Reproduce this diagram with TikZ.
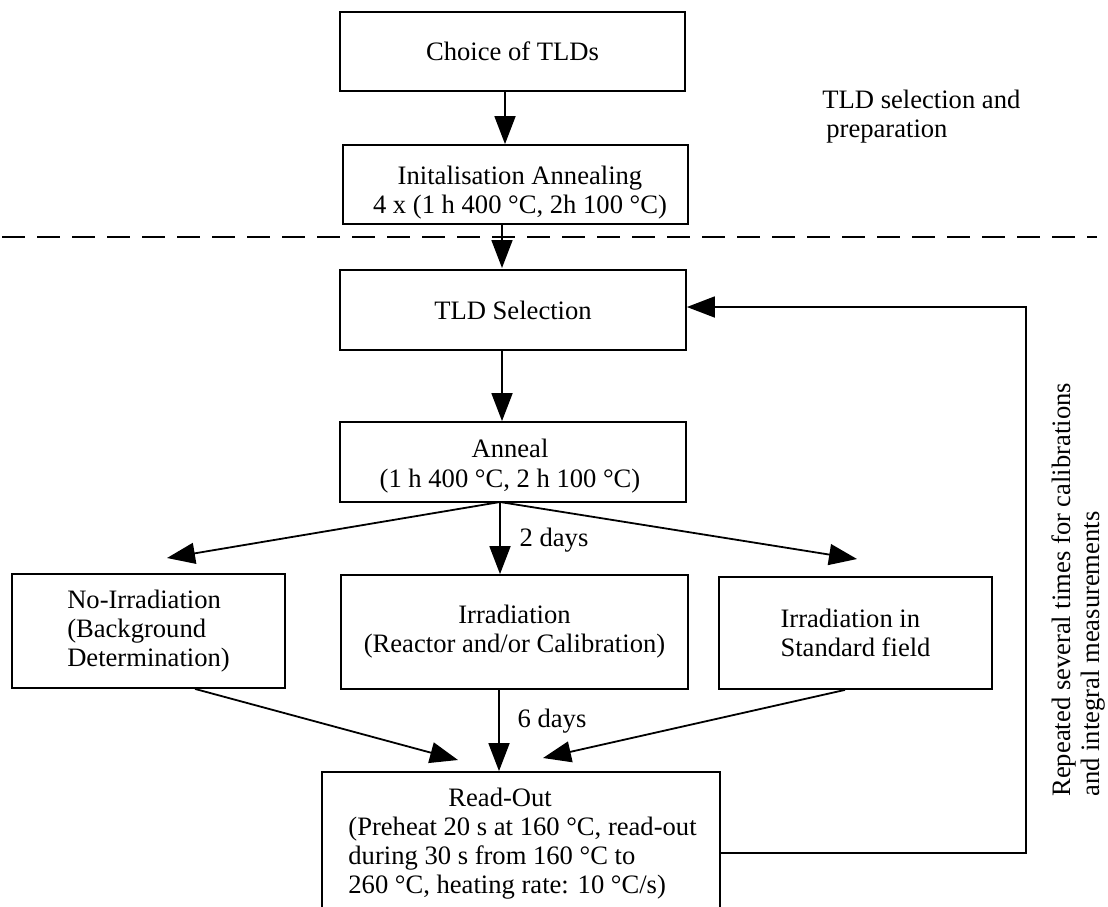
\documentclass[tikz,border=0pt]{standalone}
\usepackage{fontspec}
\setmainfont{Liberation Serif}
\usetikzlibrary{arrows.meta}
\begin{document}
\begin{tikzpicture}[x=0.5pt,y=-0.5pt,
  every node/.style={font=\fontsize{13.3pt}{14.5pt}\selectfont},
  box/.style={draw, line width=0.9pt, inner sep=0pt},
  arr/.style={line width=0.9pt, -{Triangle[length=14pt,width=10.5pt]}},
  ln/.style={line width=0.9pt},
  plain/.style={inner sep=0pt}]
\useasboundingbox (0,0) rectangle (1108,906);

% boxes
\node[box, minimum width=172.5pt, minimum height=39.5pt] (choice) at (512.5,51.5) {Choice of TLDs};
\node[box, minimum width=172.5pt, minimum height=39.5pt] (init) at (515.5,184.5) {};
\node[plain, anchor=north, align=center] (inittext) at (520,166) {Initalisation Annealing\\ 4 x (1 h 400 °C, 2h 100 °C)};
\node[box, minimum width=173pt, minimum height=40pt] (sel) at (513,310) {TLD Selection};
\node[box, minimum width=173pt, minimum height=40pt] (anneal) at (513,462) {};
\node[plain, anchor=north, align=center, font=\fontsize{13.3pt}{15pt}\selectfont] (annealtext) at (510,439) {Anneal\\(1 h 400 °C, 2 h 100 °C)};
\node[box, minimum width=136.5pt, minimum height=57pt, align=left] (noirr) at (148.5,631) {No-Irradiation\\(Background\\Determination)};
\node[box, minimum width=173.5pt, minimum height=57pt, align=center] (irr) at (514.5,632) {Irradiation\\(Reactor and/or Calibration)};
\node[box, minimum width=136.5pt, minimum height=56pt, align=left] (std) at (855.5,633) {Irradiation in\\Standard field};
\node[box, minimum width=199pt, minimum height=95pt] (ro) at (521,867) {};
\node[plain, anchor=north west, align=left] (rotext) at (348,788) {\hspace*{50pt}Read-Out\\(Preheat 20 s at 160 °C, read-out\\during 30 s from 160 °C to\\260 °C, heating rate: 10 °C/s)};

% free texts
\node[plain, anchor=north west, align=left] (prep) at (822,90) {TLD selection and\\\hspace*{2pt}preparation};
\node[plain, rotate=90, anchor=west, align=left] (rep) at (1078,797) {Repeated several times for calibrations\\and integral measurements};
\node (d2) at (554,540) {2 days};
\node (d6) at (552,721) {6 days};

% dashed separator
\coordinate (dl) at (2,237);
\coordinate (dr) at (1097,237);
\draw[ln, dash pattern=on 11.5pt off 6pt] (dl) -- (dr);

% vertical arrows
\coordinate (x505) at (505,0);
\coordinate (x502) at (502,0);
\coordinate (t2) at (502,268);
\draw[arr] (choice.south -| x505) -- (init.north -| x505);
\draw[arr] (init.south -| x502) -- (t2);
\draw[arr] (sel.south -| x502) -- (anneal.north -| x502);

% fan out from anneal
\coordinate (aS) at (500,502);
\coordinate (tL) at (167,558);
\coordinate (tR) at (857,559);
\draw[arr] (aS) -- (tL);
\draw[arr] (aS) -- (irr.north -| aS);
\draw[arr] (aS) -- (tR);

% fan in to read-out
\coordinate (bx1) at (195,0);
\coordinate (bx2) at (499,0);
\coordinate (bx3) at (845,0);
\coordinate (tBL) at (458,760);
\coordinate (tBR) at (543,758);
\draw[arr] (noirr.south -| bx1) -- (tBL);
\draw[arr] (irr.south -| bx2) -- (ro.north -| bx2);
\draw[arr] (std.south -| bx3) -- (tBR);

% feedback loop
\coordinate (fb1) at (1026,853);
\coordinate (fb2) at (1026,307);
\draw[arr] (ro.east |- fb1) -- (fb1) -- (fb2) -- (sel.east |- fb2);
\end{tikzpicture}
\end{document}
